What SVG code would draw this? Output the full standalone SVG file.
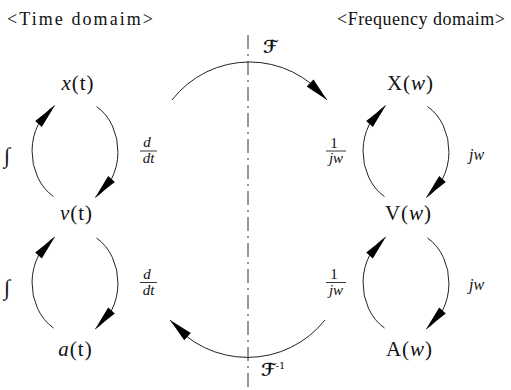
<svg xmlns="http://www.w3.org/2000/svg" width="511" height="390" viewBox="0 0 511 390" font-family="'Liberation Serif', 'DejaVu Serif', serif">
<defs>
<style>
text{font-family:'Liberation Serif','DejaVu Serif',serif;fill:#111}
.hd{font-size:18px}
.nd{font-size:21px;text-anchor:middle;letter-spacing:1px}
.it{font-style:italic}
.fr{font-size:15px;text-anchor:middle;font-style:italic}
.sc{font-family:'DejaVu Serif','DejaVu Sans',serif;font-size:18px;font-style:italic;font-weight:bold}
.ln{fill:none;stroke:#222;stroke-width:1}
.bar{stroke:#222;stroke-width:0.9}
.head{fill:#000}
.axis{fill:none;stroke:#333;stroke-width:1;stroke-dasharray:14 5 2 5}
</style>
<g id="loop">
<path class="ln" d="M-21.5,45 A43,52 0 0 1 -20.2,-45.9"/>
<path class="ln" d="M21.5,-45 A43,52 0 0 1 20.2,45.9"/>
<polygon class="head" points="-20.2,-45.9 -33.2,-24.5 -39.8,-30.5"/>
<polygon class="head" points="20.2,45.9 33.2,24.5 39.8,30.5"/>
</g>
</defs>
<rect width="511" height="390" fill="#fff"/>
<g id="headers">
<text class="hd" x="7" y="25" textLength="146" lengthAdjust="spacing">&lt;Time  domaim&gt;</text>
<text class="hd" x="337" y="25" textLength="168" lengthAdjust="spacing">&lt;Frequency  domaim&gt;</text>
</g>
<g id="connectors">
<line class="axis" x1="248" y1="35" x2="248" y2="390"/>
<use href="#loop" x="75" y="151.5"/>
<use href="#loop" x="75" y="283"/>
<use href="#loop" x="406" y="151.5"/>
<use href="#loop" x="406" y="283"/>
<path class="ln" d="M172,100 A98,98 0 0 1 327,100"/>
<polygon class="head" points="327,100 306.7,86.4 313.5,79.6"/>
<path class="ln" d="M325,320 A99,99 0 0 1 170,320"/>
<polygon class="head" points="170,320 190.8,333 184.2,340.2"/>
</g>
<g id="labels">
<text class="it" x="4" y="163" font-size="22">∫</text>
<text class="it" x="4" y="295" font-size="22">∫</text>
<g id="ddt1"><text class="fr" x="147" y="147">d</text><line class="bar" x1="140" y1="151" x2="157" y2="151"/><text class="fr" x="148.5" y="163">dt</text></g>
<g id="ddt2"><text class="fr" x="147" y="278.5">d</text><line class="bar" x1="140" y1="282.5" x2="157" y2="282.5"/><text class="fr" x="148.5" y="294.5">dt</text></g>
<g id="inv1"><text x="334" y="147.5" font-size="15" text-anchor="middle">1</text><line class="bar" x1="326" y1="151" x2="346" y2="151"/><text class="fr" x="336" y="163">jw</text></g>
<g id="inv2"><text x="334" y="279" font-size="15" text-anchor="middle">1</text><line class="bar" x1="326" y1="282.5" x2="346" y2="282.5"/><text class="fr" x="336" y="294.5">jw</text></g>
<text class="it" x="469" y="160" font-size="16">jw</text>
<text class="it" x="469" y="290" font-size="16">jw</text>
<text class="sc" x="263" y="53">ℱ</text>
<text class="sc" x="261" y="376">ℱ<tspan font-size="10" font-style="normal" font-weight="normal" dy="-7">-1</tspan></text>
</g>
<g id="node-x"><text class="nd" x="78" y="90"><tspan class="it">x</tspan>(t)</text></g>
<g id="node-v"><text class="nd" x="76.5" y="220"><tspan class="it">v</tspan>(t)</text></g>
<g id="node-a"><text class="nd" x="75.5" y="356"><tspan class="it">a</tspan>(t)</text></g>
<g id="node-X"><text class="nd" x="410.5" y="90">X(<tspan class="it">w</tspan>)</text></g>
<g id="node-V"><text class="nd" x="408.5" y="220">V(<tspan class="it">w</tspan>)</text></g>
<g id="node-A"><text class="nd" x="409.5" y="356">A(<tspan class="it">w</tspan>)</text></g>
</svg>
